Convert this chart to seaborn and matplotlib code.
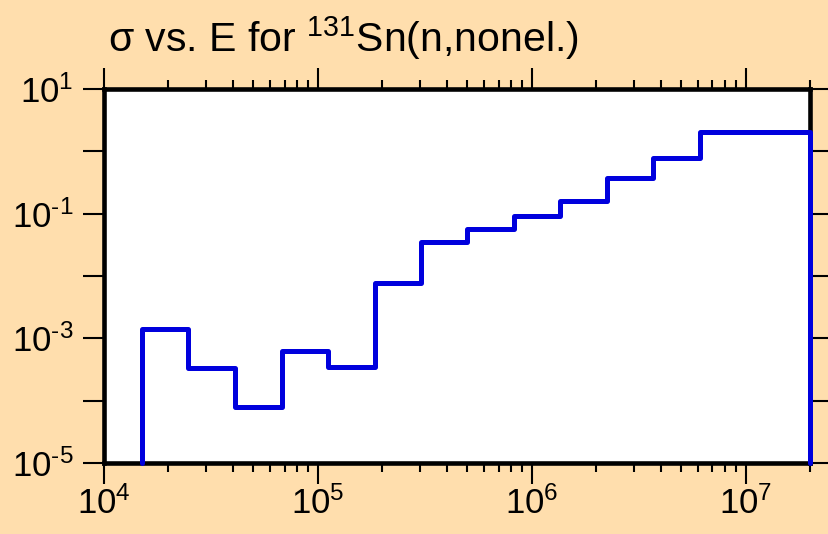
import math
import matplotlib
matplotlib.use('Agg')
import matplotlib.pyplot as plt
import matplotlib.ticker as mticker
from matplotlib import font_manager
import pandas as pd
import seaborn as sns

# group boundaries (eV) and group cross sections (b)
edges = [1.5e4, 2.48e4, 4.1e4, 6.76e4, 1.115e5, 1.84e5, 3.03e5, 5.0e5,
         8.25e5, 1.36e6, 2.24e6, 3.7e6, 6.1e6, 2.0e7]
sigma = [1.41e-3, 3.33e-4, 7.9e-5, 6.2e-4, 3.45e-4, 7.8e-3, 3.54e-2,
         5.6e-2, 9.06e-2, 0.161, 0.369, 0.773, 2.02]

x_range = [1e4, 2e7]
y_range = [1e-5, 1e1]
x_major = [1e4, 1e5, 1e6, 1e7]
y_major = [1e-5, 1e-4, 1e-3, 1e-2, 1e-1, 1e0, 1e1]

bg = '#ffdead'
line_color = '#0000dd'

sns.set_theme(style='ticks')
names = {f.name for f in font_manager.fontManager.ttflist}
base = 'Liberation Sans Narrow' if 'Liberation Sans Narrow' in names else 'Liberation Sans'
plt.rcParams['font.family'] = [base, 'DejaVu Sans']
plt.rcParams['mathtext.fontset'] = 'custom'
plt.rcParams['mathtext.rm'] = base
plt.rcParams['mathtext.it'] = base
plt.rcParams['mathtext.default'] = 'regular'


def power_label(v):
    e = round(math.log10(v))
    if e < 0:
        return r'$10^{\text{-}%d}$' % -e
    return r'$10^{%d}$' % e


# step outline: up from the floor at the first edge, down at the last one
xs = [edges[0]] + edges + [edges[-1]]
ys = [y_range[0]] + sigma + [sigma[-1], y_range[0]]
df = pd.DataFrame({'E': xs, 'sigma': ys})

fig = plt.figure(figsize=(8.29, 5.34), dpi=100, facecolor=bg)
ax = fig.add_axes([104 / 829, 1 - 463 / 534, 706 / 829, 374 / 534])
ax.set_facecolor('white')

sns.lineplot(data=df, x='E', y='sigma', ax=ax, estimator=None, sort=False,
             drawstyle='steps-post', color=line_color, linewidth=3.6,
             clip_on=False, zorder=5)

ax.set_xscale('log')
ax.set_yscale('log')
ax.set_xlim(*x_range)
ax.set_ylim(*y_range)
ax.set_xlabel('')
ax.set_ylabel('')

ax.xaxis.set_major_locator(mticker.FixedLocator(x_major))
ax.xaxis.set_minor_locator(mticker.LogLocator(base=10, subs=range(2, 10), numticks=20))
ax.xaxis.set_major_formatter(mticker.FuncFormatter(lambda v, p: power_label(v)))
ax.xaxis.set_minor_formatter(mticker.NullFormatter())

# only the odd powers carry a label on the y axis
ax.yaxis.set_major_locator(mticker.FixedLocator(y_major))
ax.yaxis.set_minor_locator(mticker.NullLocator())
ax.yaxis.set_major_formatter(mticker.FuncFormatter(
    lambda v, p: power_label(v) if round(math.log10(v)) % 2 else ''))

for s in ax.spines.values():
    s.set_linewidth(3.3)
    s.set_color('black')
    s.set_visible(True)

ax.tick_params(which='both', direction='out', top=True, right=True,
               color='black', width=1.5, labelsize=25, labelcolor='black')
ax.tick_params(which='major', length=15)
ax.tick_params(which='minor', length=6.5)
ax.tick_params(axis='x', which='major', pad=2)
ax.tick_params(axis='y', which='major', pad=7)

fig.text(108 / 829, 1 - 52 / 534, r'σ vs. E for $^{131}$Sn(n,nonel.)',
         fontsize=29.5, color='black', ha='left', va='baseline')

fig.savefig('out.png', dpi=100, facecolor=bg)
